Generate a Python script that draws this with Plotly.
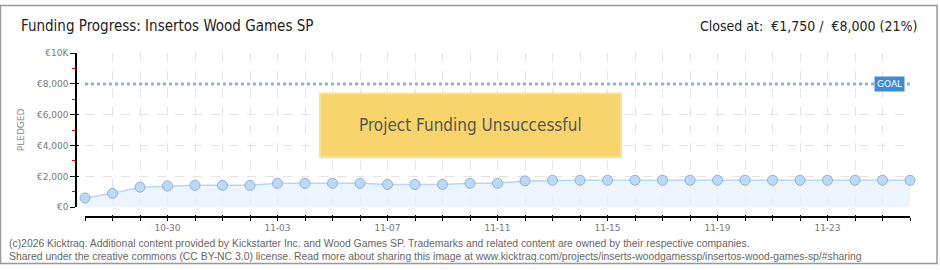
import plotly.graph_objects as go
import pandas as pd

# ---- data ----
dates = pd.date_range("2025-10-27", "2025-11-26", freq="D").strftime("%Y-%m-%d").tolist()
pledged = [600, 900, 1300, 1375, 1420, 1420, 1420, 1550, 1550, 1550, 1550, 1480, 1480, 1480,
           1550, 1550, 1710, 1750, 1750, 1750, 1750, 1750, 1750, 1750, 1750, 1750, 1750, 1750,
           1750, 1750, 1750]
goal = 8000
x_labels = [pd.Timestamp(d).strftime("%m-%d") if i % 4 == 3 else "" for i, d in enumerate(dates)]
y_tickvals = [0, 2000, 4000, 6000, 8000, 10000]
y_ticktext = ["€0", "€2,000", "€4,000", "€6,000", "€8,000", "€10K"]
y_minor = [1000, 3000, 5000, 7000, 9000]

W, H = 940, 270
def px(x): return x / W
def py(y): return 1 - y / H

NARROW = "DejaVu Sans Condensed"
SMALL = "DejaVu Sans, sans-serif"
FOOT = "Liberation Sans, sans-serif"

fig = go.Figure()
fig.add_trace(go.Scatter(
    x=dates, y=pledged, mode="lines+markers", fill="tozeroy",
    fillcolor="rgba(226,238,251,0.65)",
    line=dict(color="#b9d6f3", width=1.5),
    marker=dict(size=10, color="#bcdaf8", line=dict(color="#8fb0d4", width=1)),
    cliponaxis=False, hoverinfo="x+y", showlegend=False))
fig.add_trace(go.Scatter(
    x=dates, y=[goal] * len(dates), mode="lines",
    line=dict(color="#8db3e0", width=3, dash="3px,3px"),
    hoverinfo="skip", showlegend=False, cliponaxis=False))
# dummy trace for overlay axes (crossing tick marks)
fig.add_trace(go.Scatter(x=[dates[0]], y=[0], xaxis="x2", yaxis="y2", mode="markers",
                         marker=dict(opacity=0), hoverinfo="skip", showlegend=False))

xdom = [px(85), px(910)]
ydom = [py(210), py(50)]
xr = [dates[0], dates[-1]]

fig.update_layout(
    width=W, height=H, margin=dict(l=0, r=0, t=0, b=0),
    paper_bgcolor="white", plot_bgcolor="white",
    xaxis=dict(domain=xdom, range=xr, anchor="free", position=py(220),
               tickvals=dates, ticktext=x_labels, ticks="outside", ticklen=3,
               tickcolor="black", showline=True, linecolor="black", linewidth=1.5,
               showgrid=True, gridcolor="#e3e3e3", griddash="dash", gridwidth=1,
               tickfont=dict(family=SMALL, size=9, color="#777"), zeroline=False),
    yaxis=dict(domain=ydom, range=[0, 10000], anchor="free", position=px(76),
               tickvals=y_tickvals, ticktext=y_ticktext, ticks="outside", ticklen=5,
               tickcolor="black", showline=True, linecolor="black", linewidth=1.5,
               showgrid=True, gridcolor="#e3e3e3", griddash="dash", gridwidth=1,
               tickfont=dict(family=SMALL, size=9, color="#777"), zeroline=False,
               minor=dict(tickvals=y_minor, ticks="outside", ticklen=3, tickcolor="red",
                          showgrid=False)),
    xaxis2=dict(domain=xdom, range=xr, overlaying="x", anchor="free", position=py(220),
                tickvals=dates, ticks="inside", ticklen=2, tickcolor="black",
                showticklabels=False, showgrid=False, showline=False, zeroline=False),
    yaxis2=dict(domain=ydom, range=[0, 10000], overlaying="y", anchor="free", position=px(76),
                tickvals=y_tickvals, ticks="inside", ticklen=2, tickcolor="black",
                showticklabels=False, showgrid=False, showline=False, zeroline=False),
)

shapes = [
    dict(type="rect", xref="paper", yref="paper", x0=px(0.5), x1=px(937), y0=py(268.5), y1=py(0.5),
         line=dict(color="#999", width=1.5), fillcolor="rgba(0,0,0,0)", layer="above"),
    dict(type="rect", xref="paper", yref="paper", x0=px(320), x1=px(621), y0=py(158), y1=py(92),
         line=dict(color="#fbe38c", width=2), fillcolor="#f8d56c", layer="above"),
]
fig.update_layout(shapes=shapes)

ann = [
    dict(text="Funding Progress: Insertos Wood Games SP", xref="paper", yref="paper",
         x=px(19), y=py(22), xanchor="left", yanchor="middle", showarrow=False,
         font=dict(family=NARROW, size=15, color="#222")),
    dict(text="Closed at:  €1,750 /  €8,000 (21%)", xref="paper", yref="paper",
         x=px(919), y=py(22), xanchor="right", yanchor="middle", showarrow=False,
         font=dict(family=NARROW, size=14, color="#222")),
    dict(text="PLEDGED", xref="paper", yref="paper", x=px(21), y=py(130), textangle=-90,
         xanchor="center", yanchor="middle", showarrow=False,
         font=dict(family=SMALL, size=9, color="#888")),
    dict(text="Project Funding Unsuccessful", xref="paper", yref="paper",
         x=px(470.5), y=py(125), xanchor="center", yanchor="middle", showarrow=False,
         font=dict(family=NARROW, size=17, color="#555")),
    dict(text="GOAL", xref="x", yref="y", x=dates[-1], y=goal, xanchor="right", yanchor="middle",
         xshift=-5, showarrow=False, bgcolor="#3d8bd9", borderpad=2,
         font=dict(family=SMALL, size=9, color="white")),
    dict(text="(c)2026 Kicktraq. Additional content provided by Kickstarter Inc. and Wood Games SP. Trademarks and related content are owned by their respective companies.",
         xref="paper", yref="paper", x=px(7), y=py(248), xanchor="left", yanchor="middle",
         showarrow=False, font=dict(family=FOOT, size=10.4, color="#666")),
    dict(text="Shared under the creative commons (CC BY-NC 3.0) license. Read more about sharing this image at www.kicktraq.com/projects/inserts-woodgamessp/insertos-wood-games-sp/#sharing",
         xref="paper", yref="paper", x=px(7), y=py(261), xanchor="left", yanchor="middle",
         showarrow=False, font=dict(family=FOOT, size=10.4, color="#666")),
]
fig.update_layout(annotations=ann)

fig.write_html("out.html")
